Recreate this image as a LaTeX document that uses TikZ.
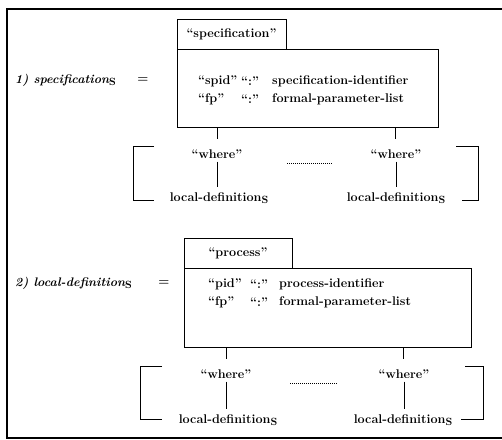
\documentclass[tikz,border=0pt]{standalone}
\usepackage{fontspec}
\usetikzlibrary{calc}
\newcommand{\subS}{\raisebox{-0.45ex}{\normalfont\bfseries\fontsize{10.5}{12}\selectfont S}}
\tikzset{
  txt/.style={inner sep=0pt, font=\fontsize{12.6}{14}\selectfont\bfseries},
  lbl/.style={inner sep=0pt, anchor=west, font=\fontsize{12.4}{14}\selectfont\bfseries\itshape},
  box/.style={draw, line width=0.8pt},
  conn/.style={line width=0.8pt},
  dots/.style={line width=0.7pt, dash pattern=on 1pt off 1pt},
  frame/.style={line width=1.1pt}
}
\begin{document}
\begin{tikzpicture}[x=1pt,y=-1pt]
\useasboundingbox (0,0) rectangle (502,439);

% outer frame (open to the right)
\draw[frame] (502,9) -- (7,9) -- (7,438) -- (502,438);

% ---------- 1) specification ----------
\node[lbl] (def1) at (15,80) {1) specification\subS};
\node[txt] (eq1) at (143,80) {=};
\draw[box] (177,19) rectangle (286,49);
\node[txt] (tab1) at (231.5,34) {``specification''};
\draw[box] (177,49) rectangle (438,127);
\coordinate (box1L) at (217,127);
\coordinate (box1R) at (395,127);
\node[txt, anchor=west] (k11) at (198,81) {``spid''};
\node[txt, anchor=west] (c11) at (241,81) {``:''};
\node[txt, anchor=west] (v11) at (272,81) {specification-identifier};
\node[txt, anchor=west] (k12) at (198,99) {``fp''};
\node[txt, anchor=west] (c12) at (241,99) {``:''};
\node[txt, anchor=west] (v12) at (272,99) {formal-parameter-list};

\node[txt] (w1a) at (217,154) {``where''};
\node[txt] (w1b) at (396,154) {``where''};
\node[txt] (l1a) at (219,198) {local-definition\subS};
\node[txt] (l1b) at (396,198) {local-definition\subS};
\draw[conn] (box1L) -- ++(0,12);
\draw[conn] (box1R) -- ++(0,12);
\draw[conn] ($(w1a.south)+(0,3)$) -- ($(l1a.north -| w1a)+(0,-5)$);
\draw[conn] ($(w1b.south)+(0,3)$) -- ($(l1b.north -| w1b)+(0,-5)$);
\coordinate (d1a) at (287,163);
\coordinate (d1b) at (332,163);
\draw[dots] (d1a) -- (d1b);
% brackets
\draw[conn] (154,146) -- (133,146) -- (133,200) -- (154,200);
\draw[conn] (456,146) -- (478,146) -- (478,200) -- (462,200);

% ---------- 2) local-definitions ----------
\node[lbl] (def2) at (15,283) {2) local-definition\subS};
\node[txt] (eq2) at (164,283) {=};
\draw[box] (184,238) rectangle (292,268);
\node[txt] (tab2) at (238,253) {``process''};
\draw[box] (184,268) rectangle (471,347);
\coordinate (box2L) at (226,347);
\coordinate (box2R) at (403,347);
\node[txt, anchor=west] (k21) at (208,284) {``pid''};
\node[txt, anchor=west] (c21) at (250,284) {``:''};
\node[txt, anchor=west] (v21) at (279,284) {process-identifier};
\node[txt, anchor=west] (k22) at (208,302) {``fp''};
\node[txt, anchor=west] (c22) at (250,302) {``:''};
\node[txt, anchor=west] (v22) at (279,302) {formal-parameter-list};

\node[txt] (w2a) at (226,374) {``where''};
\node[txt] (w2b) at (404,374) {``where''};
\node[txt] (l2a) at (228,420) {local-definition\subS};
\node[txt] (l2b) at (403,420) {local-definition\subS};
\draw[conn] (box2L) -- ++(0,12);
\draw[conn] (box2R) -- ++(0,12);
\draw[conn] ($(w2a.south)+(0,3)$) -- ($(l2a.north -| w2a)+(0,-5)$);
\draw[conn] ($(w2b.south)+(0,3)$) -- ($(l2b.north -| w2b)+(0,-5)$);
\coordinate (d2a) at (290,383);
\coordinate (d2b) at (338,383);
\draw[dots] (d2a) -- (d2b);
% brackets
\draw[conn] (162,366) -- (140,366) -- (140,419) -- (162,419);
\draw[conn] (465,366) -- (483,366) -- (483,419) -- (461,419);
\end{tikzpicture}
\end{document}
